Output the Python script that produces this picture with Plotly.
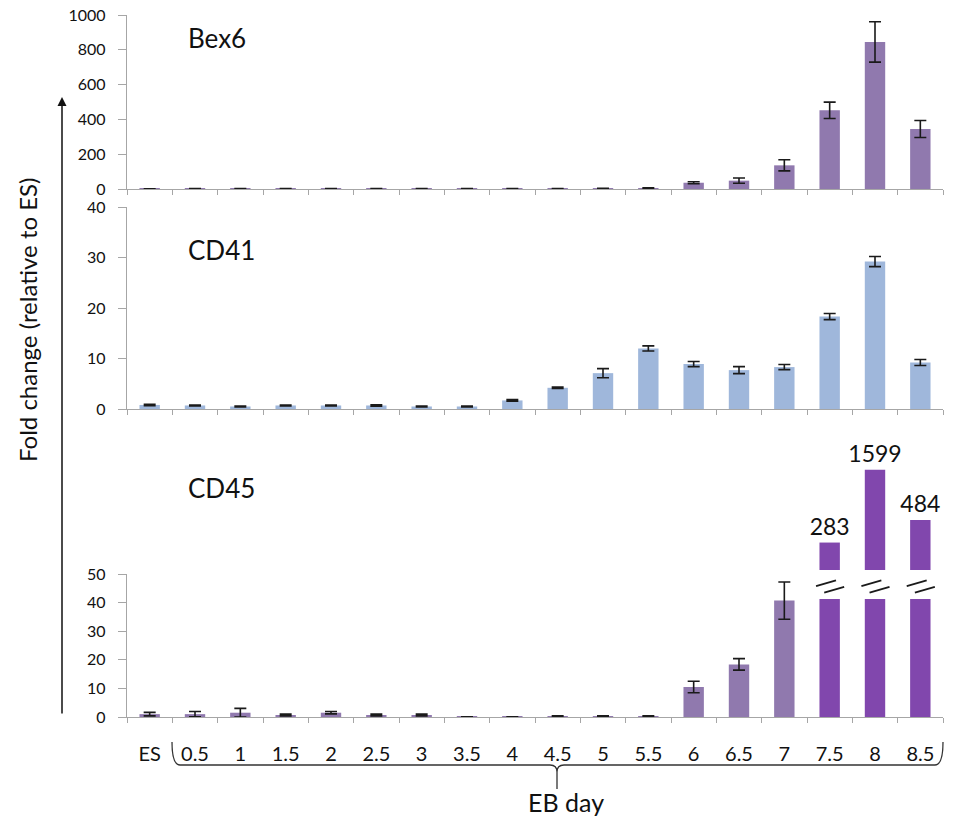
import plotly.graph_objects as go

# ---- data -------------------------------------------------------------
days = ["ES", "0.5", "1", "1.5", "2", "2.5", "3", "3.5", "4", "4.5",
        "5", "5.5", "6", "6.5", "7", "7.5", "8", "8.5"]

bex6 = [1, 1.5, 2, 1.5, 2, 1.5, 1.5, 2, 2, 2, 3, 5, 36, 48, 136, 452, 845, 345]
bex6_err = [0.5, 0.5, 0.5, 0.5, 0.5, 0.5, 0.5, 0.5, 0.5, 0.5, 1, 2, 6, 15, 32, 47, 116, 49]

cd41 = [0.8, 0.7, 0.5, 0.7, 0.7, 0.7, 0.5, 0.5, 1.7, 4.2, 7.1, 12.0, 8.9, 7.7, 8.3, 18.3, 29.2, 9.2]
cd41_err = [0.15, 0.1, 0.1, 0.1, 0.1, 0.15, 0.1, 0.1, 0.15, 0.15, 0.9, 0.5, 0.5, 0.7, 0.5, 0.6, 1.0, 0.6]

cd45 = [1.0, 1.0, 1.5, 0.7, 1.5, 0.7, 0.7, 0.1, 0.1, 0.3, 0.3, 0.3, 10.5, 18.4, 40.7, 283, 1599, 484]
cd45_err = [0.6, 0.9, 1.5, 0.3, 0.4, 0.3, 0.3, 0, 0, 0.1, 0.1, 0.1, 2.0, 2.0, 6.5, 0, 0, 0]

bex6_ticks = [0, 200, 400, 600, 800, 1000]
cd41_ticks = [0, 10, 20, 30, 40]
cd45_ticks = [0, 10, 20, 30, 40, 50]

# ---- styling ----------------------------------------------------------
W, H = 954, 818
ML, MR = 127, 11
PW = W - ML - MR
FONT = "Lato"
TXT = "#111111"
AXIS = "#a6a6a6"
C_PURPLE = "#9079ae"
C_BLUE = "#9fb7db"
C_DEEP = "#8147ad"
ERR = dict(type="data", color="#1a1a1a", thickness=1.6, width=6)

LOWER_CAP = 50        # top of the linear CD45 axis
BREAK_TOP = 41.3      # where bars above the cap are cut
BREAK_BASE = 147      # bottom of the upper (broken) segment
broken = [v > LOWER_CAP for v in cd45]


def px_x(p):
    return (p - ML) / PW


def px_y(p):
    return 1 - p / H


fig = go.Figure()

fig.add_trace(go.Bar(x=days, y=bex6, xaxis="x", yaxis="y", marker_color=C_PURPLE,
                     error_y=dict(array=bex6_err, **ERR)))
fig.add_trace(go.Bar(x=days, y=cd41, xaxis="x2", yaxis="y2", marker_color=C_BLUE,
                     error_y=dict(array=cd41_err, **ERR)))

# CD45 bars that fit on the linear axis
ok_x = [d for d, b in zip(days, broken) if not b]
ok_v = [v for v, b in zip(cd45, broken) if not b]
ok_e = [e for e, b in zip(cd45_err, broken) if not b]
fig.add_trace(go.Bar(x=ok_x, y=ok_v, xaxis="x3", yaxis="y3", marker_color=C_PURPLE,
                     error_y=dict(array=ok_e, **ERR)))

# CD45 bars that exceed the axis: lower stub, cut at the break
up_x = [d for d, b in zip(days, broken) if b]
up_v = [v for v, b in zip(cd45, broken) if b]
fig.add_trace(go.Bar(x=up_x, y=[min(v, BREAK_TOP) for v in up_v], xaxis="x3", yaxis="y3",
                     marker_color=C_DEEP))

# ... and the upper segment on its own hidden log axis
fig.add_trace(go.Bar(x=up_x, y=[v - BREAK_BASE for v in up_v], base=BREAK_BASE,
                     xaxis="x3", yaxis="y4", marker_color=C_DEEP,
                     text=[str(v) for v in up_v], textposition="outside",
                     constraintext="none",
                     textfont=dict(family=FONT, size=23, color=TXT),
                     cliponaxis=False))

for tr in fig.data:
    tr.update(marker_line_width=0, showlegend=False)

xcommon = dict(type="category", range=[-0.5, len(days) - 0.5], showline=True,
               linecolor=AXIS, linewidth=1.3, ticks="outside", tickson="boundaries",
               ticklen=5, tickcolor=AXIS, showgrid=False, zeroline=False,
               domain=[0, 1], automargin=False)
ycommon = dict(showline=True, linecolor=AXIS, linewidth=1.3, ticks="outside",
               ticklen=8, tickcolor=AXIS, showgrid=False, zeroline=False,
               tickfont=dict(family=FONT, size=16, color=TXT), ticklabelstandoff=9,
               automargin=False)

fig.update_layout(
    width=W, height=H,
    margin=dict(l=ML, r=MR, t=0, b=0, pad=0, autoexpand=False),
    paper_bgcolor="white", plot_bgcolor="white",
    barmode="overlay", bargap=0.55,
    font=dict(family=FONT, color=TXT),
    xaxis=dict(anchor="y", showticklabels=False, **xcommon),
    xaxis2=dict(anchor="y2", showticklabels=False, **xcommon),
    xaxis3=dict(anchor="y3", showticklabels=True,
                tickfont=dict(family=FONT, size=20, color=TXT),
                ticklabelstandoff=19, **xcommon),
    yaxis=dict(anchor="x", domain=[px_y(189), px_y(15)], range=[0, 1000],
               tickvals=bex6_ticks, **ycommon),
    yaxis2=dict(anchor="x2", domain=[px_y(409), px_y(207)], range=[0, 40],
                tickvals=cd41_ticks, **ycommon),
    yaxis3=dict(anchor="x3", domain=[px_y(717), px_y(574)], range=[0, LOWER_CAP],
                tickvals=cd45_ticks, **ycommon),
    yaxis4=dict(anchor="x3", domain=[px_y(570), px_y(440)], type="log",
                range=[2.168, 3.512], visible=False, showgrid=False,
                automargin=False),
)

# panel names
for name, py in [("Bex6", 38), ("CD41", 250), ("CD45", 488)]:
    fig.add_annotation(text=name, xref="paper", yref="paper", x=px_x(186), y=px_y(py),
                       xanchor="left", yanchor="middle", showarrow=False,
                       font=dict(family=FONT, size=26, color=TXT))

# break marks across the cut bars
for i, b in enumerate(broken):
    if not b:
        continue
    for dx, y0, y1 in [(-0.08, 45.8, 47.8), (0.1, 43.5, 45.5)]:
        fig.add_shape(type="line", xref="x3", yref="y3",
                      x0=i - 0.22 + dx, x1=i + 0.22 + dx, y0=y0, y1=y1,
                      line=dict(color="#1a1a1a", width=1.8))

# shared y title with upward arrow
fig.add_annotation(text="Fold change (relative to ES)", xref="paper", yref="paper",
                   x=px_x(27), y=px_y(320), xanchor="center", yanchor="middle",
                   textangle=-90, showarrow=False,
                   font=dict(family=FONT, size=24, color=TXT))
fig.add_annotation(text="", xref="paper", yref="paper", x=px_x(62), y=px_y(97),
                   ax=0, ay=618, showarrow=True, arrowhead=2, arrowsize=1.2,
                   arrowwidth=1.5, arrowcolor="#111111")

# brace grouping the EB days
L, R, TIP, LY, TOPY, TY = 172, 943, 557, 765, 742, 789
path = (f"M {px_x(L)},{px_y(TOPY)} Q {px_x(L)},{px_y(LY)} {px_x(L + 8)},{px_y(LY)} "
        f"L {px_x(TIP - 7)},{px_y(LY)} Q {px_x(TIP)},{px_y(LY)} {px_x(TIP)},{px_y(LY + 7)} "
        f"L {px_x(TIP)},{px_y(TY)} M {px_x(TIP)},{px_y(LY + 7)} "
        f"Q {px_x(TIP)},{px_y(LY)} {px_x(TIP + 7)},{px_y(LY)} "
        f"L {px_x(R - 8)},{px_y(LY)} Q {px_x(R)},{px_y(LY)} {px_x(R)},{px_y(TOPY)}")
fig.add_shape(type="path", xref="paper", yref="paper", path=path,
              line=dict(color="#333333", width=1.3))
fig.add_annotation(text="EB day", xref="paper", yref="paper", x=px_x(566), y=px_y(802),
                   xanchor="center", yanchor="middle", showarrow=False,
                   font=dict(family=FONT, size=25, color=TXT))

fig.write_html("out.html")
